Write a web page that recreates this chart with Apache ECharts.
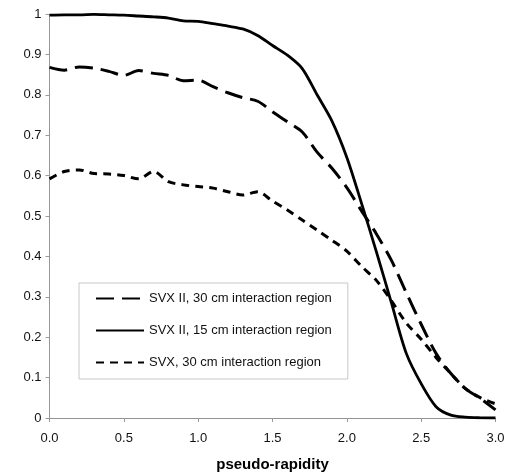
<!DOCTYPE html>
<html>
<head>
<meta charset="utf-8">
<script src="https://cdn.jsdelivr.net/npm/echarts@6/dist/echarts.min.js"></script>
<style>
  html, body { margin: 0; padding: 0; background: #fff; }
  #chart { width: 505px; height: 472px; }
</style>
</head>
<body>
<div id="chart"></div>
<script>
// pseudo-rapidity points
var eta = [0.0, 0.1, 0.2, 0.3, 0.4, 0.5, 0.6, 0.7, 0.8, 0.9, 1.0, 1.1, 1.2, 1.3, 1.4, 1.5,
           1.6, 1.7, 1.8, 1.9, 2.0, 2.1, 2.2, 2.3, 2.4, 2.5, 2.6, 2.7, 2.8, 2.9, 3.0];

var svx2_30 = [0.868, 0.861, 0.869, 0.866, 0.858, 0.848, 0.860, 0.853, 0.848, 0.835, 0.836,
               0.820, 0.805, 0.793, 0.784, 0.758, 0.733, 0.708, 0.658, 0.618, 0.570,
               0.512, 0.455, 0.390, 0.310, 0.232, 0.160, 0.110, 0.072, 0.048, 0.020];

var svx2_15 = [0.997, 0.998, 0.998, 0.999, 0.998, 0.997, 0.995, 0.993, 0.990, 0.983, 0.982,
               0.976, 0.970, 0.963, 0.947, 0.922, 0.898, 0.865, 0.800, 0.735, 0.645,
               0.530, 0.410, 0.285, 0.160, 0.085, 0.028, 0.007, 0.002, 0.0005, 0.0];

var svx_30 = [0.592, 0.610, 0.614, 0.605, 0.604, 0.600, 0.592, 0.610, 0.585, 0.577, 0.573,
              0.569, 0.560, 0.552, 0.560, 0.537, 0.515, 0.490, 0.465, 0.440, 0.413,
              0.375, 0.340, 0.290, 0.235, 0.195, 0.150, 0.110, 0.072, 0.050, 0.035];

var names = ['SVX II, 30 cm interaction region', 'SVX II, 15 cm interaction region', 'SVX, 30 cm interaction region'];

function pairs(ys) {
    return eta.map(function (x, i) { return [x, ys[i]]; });
}

var myChart = echarts.init(document.getElementById('chart'));

var font = 'Arial, "Liberation Sans", sans-serif';

var option = {
    animation: false,
    textStyle: { fontFamily: font },
    grid: { left: 49.5, right: 9.5, top: 14, bottom: 54, outerBoundsMode: 'none', containLabel: false },
    legend: {
        orient: 'vertical',
        left: 79,
        top: 283,
        padding: [9, 16, 10, 16],
        itemWidth: 48,
        itemHeight: 14,
        itemGap: 19,
        borderColor: '#c8c8c8',
        borderWidth: 1,
        backgroundColor: '#fff',
        itemStyle: { opacity: 0 },
        textStyle: { fontSize: 13, color: '#111', fontFamily: font },
        data: names
    },
    xAxis: [{
        type: 'value',
        min: 0,
        max: 3,
        interval: 0.5,
        name: 'pseudo-rapidity',
        nameLocation: 'middle',
        nameGap: 39,
        nameTextStyle: { fontSize: 15, fontWeight: 'bold', color: '#000', fontFamily: font },
        axisLine: { lineStyle: { color: '#555', type: 'dotted', width: 1 } },
        axisTick: { show: true, length: 4, lineStyle: { color: '#999' } },
        axisLabel: { fontSize: 13, color: '#111', margin: 14, formatter: function (v) { return v.toFixed(1); } },
        splitLine: { show: false }
    }, {
        type: 'value',
        position: 'top',
        min: 0,
        max: 3,
        axisLine: { show: true, lineStyle: { color: '#999', type: 'dotted', width: 1 } },
        axisTick: { show: false },
        axisLabel: { show: false },
        splitLine: { show: false }
    }],
    yAxis: [{
        type: 'value',
        min: 0,
        max: 1,
        interval: 0.1,
        axisLine: { show: true, lineStyle: { color: '#555', type: 'dotted', width: 1 } },
        axisTick: { show: true, length: 4, lineStyle: { color: '#999' } },
        axisLabel: { fontSize: 13, color: '#111', margin: 8 },
        splitLine: { show: false }
    }, {
        type: 'value',
        position: 'right',
        min: 0,
        max: 1,
        axisLine: { show: true, lineStyle: { color: '#999', type: 'dotted', width: 1 } },
        axisTick: { show: false },
        axisLabel: { show: false },
        splitLine: { show: false }
    }],
    series: [{
        name: names[0],
        type: 'line',
        symbol: 'none',
        smooth: 0.3,
        lineStyle: { color: '#000', width: 3, type: [18, 8] },
        itemStyle: { color: '#000' },
        data: pairs(svx2_30)
    }, {
        name: names[1],
        type: 'line',
        symbol: 'none',
        smooth: 0.3,
        lineStyle: { color: '#000', width: 2.8, type: 'solid' },
        itemStyle: { color: '#000' },
        data: pairs(svx2_15)
    }, {
        name: names[2],
        type: 'line',
        symbol: 'none',
        smooth: 0.3,
        lineStyle: { color: '#000', width: 3, type: [8, 6] },
        itemStyle: { color: '#000' },
        data: pairs(svx_30)
    }]
};

myChart.setOption(option);
window.addEventListener('resize', function () {
    myChart.resize();
});
</script>
</body>
</html>
